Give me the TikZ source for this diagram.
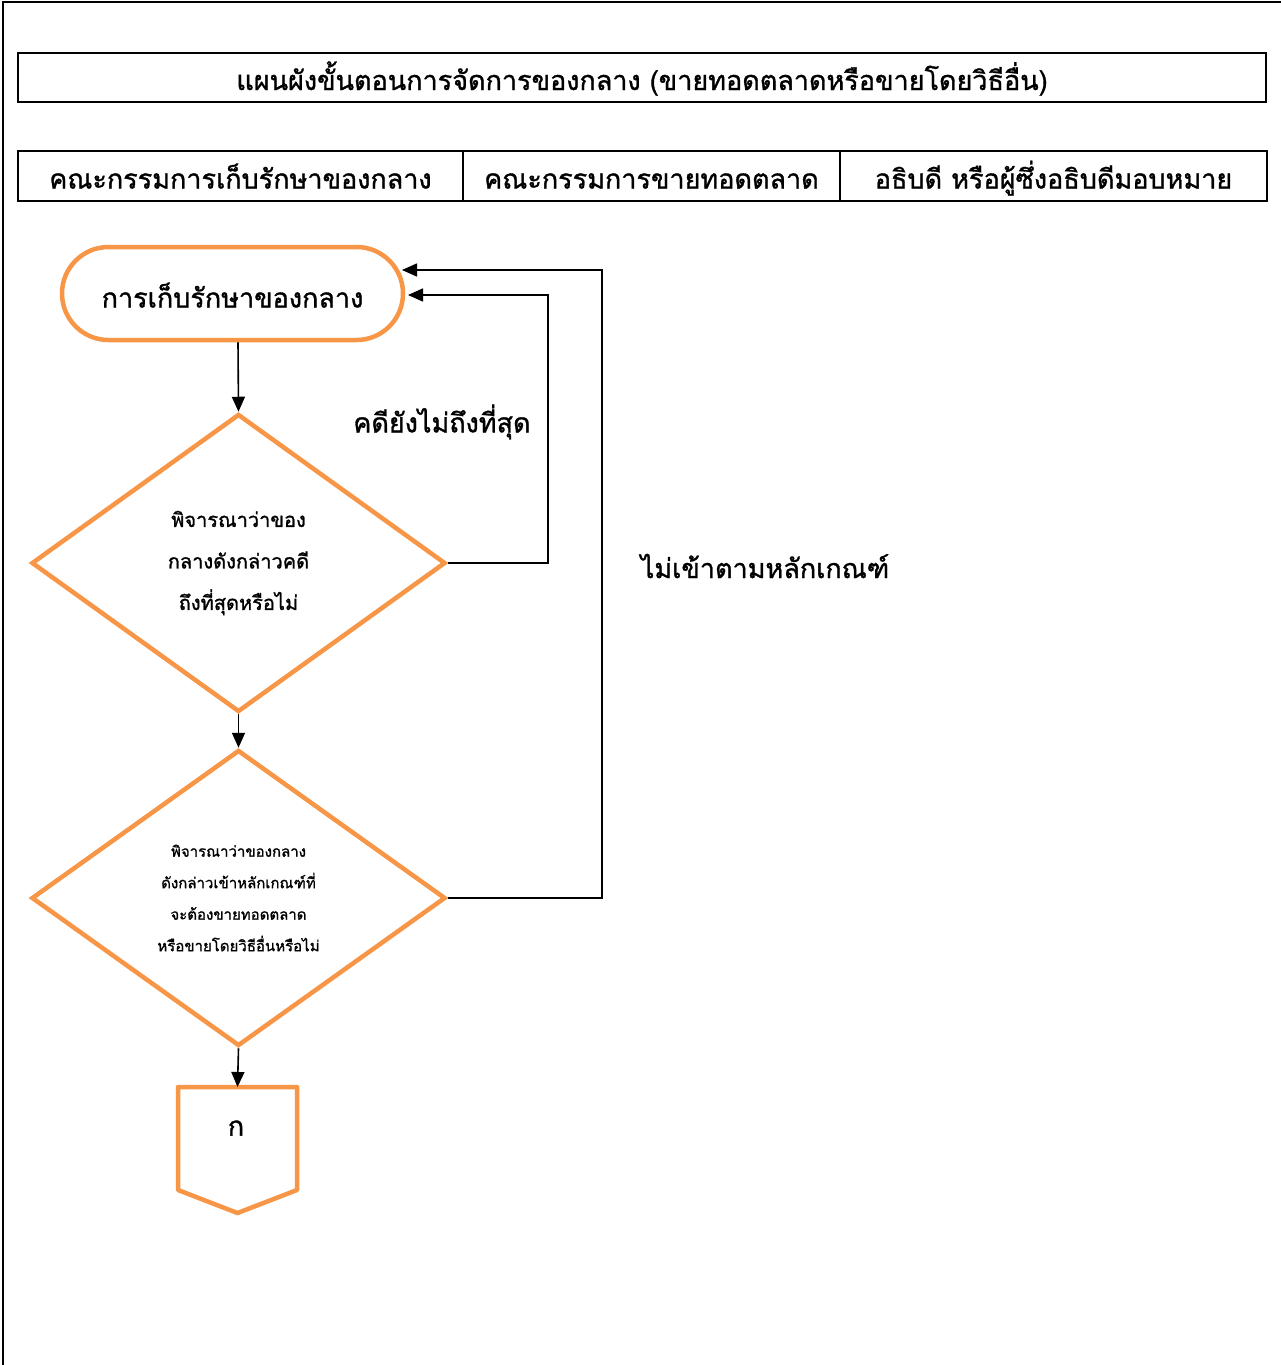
\documentclass[tikz,border=0pt]{standalone}
\usepackage{fontspec}
\setmainfont[Script=Thai,FakeBold=1.2]{Loma}
\usetikzlibrary{arrows.meta,shapes.geometric,calc}
\definecolor{flow}{HTML}{F79646}
\begin{document}
\begin{tikzpicture}[x=1pt,y=-1pt,
  frame/.style={draw=black,line width=1.8pt},
  cell/.style={draw=black,line width=1.8pt,minimum height=50pt,inner sep=0pt,outer sep=0pt,
    text height=29pt,text depth=4pt,font=\fontsize{27}{30}\selectfont},
  flowshape/.style={draw=flow,line width=4.5pt,fill=white},
  decision/.style={flowshape,diamond,inner sep=0pt,minimum width=414pt,minimum height=298pt,align=center},
  arr/.style={draw=black,line width=1.6pt,-{Triangle[length=15pt,width=13pt]}},
  caption/.style={font=\fontsize{27}{30}\selectfont}
]
\useasboundingbox (0,0) rectangle (1281,1365);

% page frame (left and top edges)
\draw[frame] (3,1365) -- (3,2) -- (1281,2);

% title and swimlane headers
\node[cell,minimum width=1248pt,minimum height=49pt] (title) at (642,77.5)
  {แผนผังขั้นตอนการจัดการของกลาง (ขายทอดตลาดหรือขายโดยวิธีอื่น)};
\node[cell,minimum width=445pt] (lane1) at (240.5,176)
  {คณะกรรมการเก็บรักษาของกลาง};
\node[cell,minimum width=377pt] (lane2) at (651.5,176)
  {คณะกรรมการขายทอดตลาด};
\node[cell,minimum width=427pt] (lane3) at (1053.5,176)
  {อธิบดี หรือผู้ซึ่งอธิบดีมอบหมาย};

% flow shapes
\node[flowshape,rounded corners=46.5pt,minimum width=341pt,minimum height=93pt,
  text height=32pt,text depth=4pt,font=\fontsize{27}{30}\selectfont] (term) at (232.5,293.5)
  {การเก็บรักษาของกลาง};

\node[decision,font=\fontsize{20}{41.5}\selectfont] (d1) at (238.5,563)
  {พิจารณาว่าของ\\กลางดังกล่าวคดี\\ถึงที่สุดหรือไม่};

\node[decision,minimum height=296pt,font=\fontsize{15}{31.5}\selectfont] (d2) at (238.5,898)
  {พิจารณาว่าของกลาง\\ดังกล่าวเข้าหลักเกณฑ์ที่\\จะต้องขายทอดตลาด\\หรือขายโดยวิธีอื่นหรือไม่};

% off-page connector
\node[minimum width=119pt,minimum height=126pt,inner sep=0pt,outer sep=0pt] (con) at (237.5,1150) {};
\draw[flowshape,line join=round] (con.north west) -- (con.north east)
  -- ($(con.south east)+(0,-23)$) -- (con.south) -- ($(con.south west)+(0,-23)$) -- cycle;
\node[font=\fontsize{27}{30}\selectfont] (conlabel) at (236,1128) {ก};

% edge labels
\node[caption] (lab1) at (442,422) {คดียังไม่ถึงที่สุด};
\node[caption] (lab2) at (765,566) {ไม่เข้าตามหลักเกณฑ์};

% connectors
\coordinate (in1) at (408,295);
\coordinate (in2) at (402,270);
\draw[arr] ([xshift=5.5pt]term.south) -- (d1.north);
\draw[arr] (d1.south) -- (d2.north);
\draw[arr] (d2.south) -- (con.north);
\draw[arr] (d1.east) -- ++(100,0) |- (in1);
\draw[arr] (d2.east) -- ++(154,0) |- (in2);
\end{tikzpicture}
\end{document}
